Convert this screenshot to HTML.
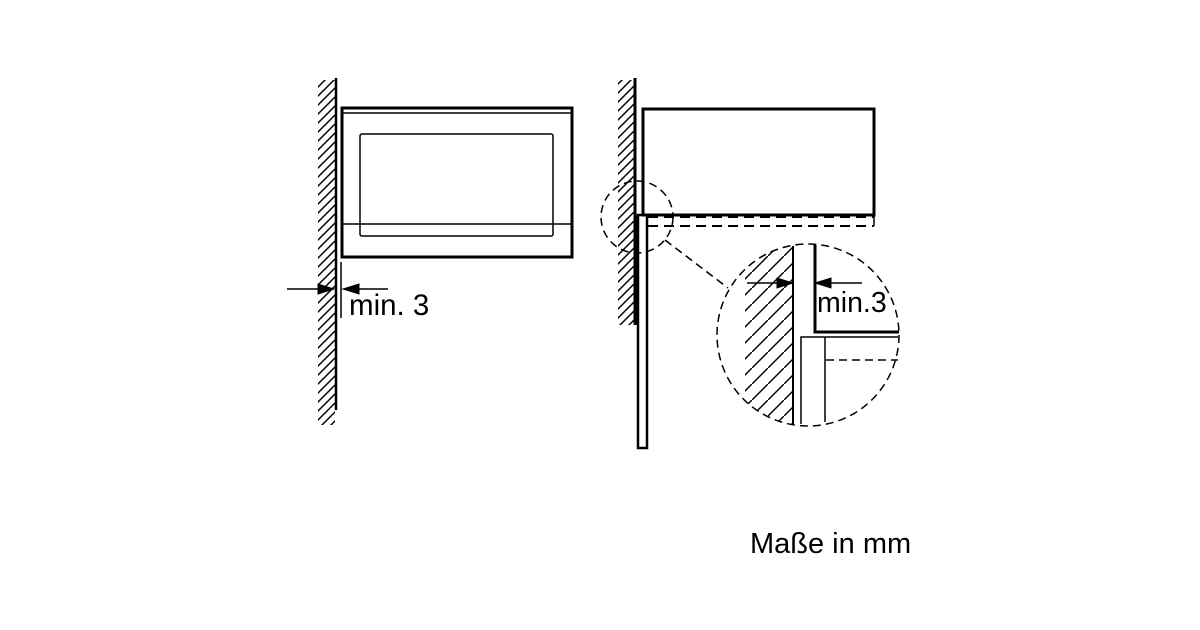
<!DOCTYPE html>
<html><head><style>body{margin:0;background:#fff}svg{display:block}</style></head><body>
<svg width="1200" height="630" xmlns="http://www.w3.org/2000/svg" font-family="Liberation Sans, sans-serif">
<defs>
<pattern id="h1" width="9" height="9" patternUnits="userSpaceOnUse"><path d="M-2,11 L11,-2 M-2,2 L2,-2 M7,11 L11,7" stroke="#000" stroke-width="1.5"/></pattern>
<pattern id="h2" width="16" height="16" patternUnits="userSpaceOnUse"><path d="M-4,20 L20,-4" stroke="#000" stroke-width="1.5"/></pattern>
<clipPath id="cc"><circle cx="808" cy="335" r="91"/></clipPath>
</defs>
<g stroke="#000" fill="none">
<rect x="318" y="80" width="17" height="345" fill="url(#h1)" stroke="none"/>
<line x1="336" y1="78" x2="336" y2="410" stroke-width="2.5"/>
<rect x="342" y="108" width="230" height="149" stroke-width="3"/>
<line x1="343" y1="113" x2="571" y2="113" stroke-width="1.5"/>
<rect x="360" y="134" width="193" height="102" rx="2" stroke-width="1.5"/>
<line x1="342" y1="224" x2="572" y2="224" stroke-width="1.5"/>
<line x1="341" y1="262" x2="341" y2="318" stroke-width="1.5"/>
<line x1="287" y1="289" x2="322" y2="289" stroke-width="1.5"/>
<path d="M334,289 L318,284 L318,294 Z" fill="#000"/>
<line x1="355" y1="289" x2="388" y2="289" stroke-width="1.5"/>
<path d="M343,289 L359,284 L359,294 Z" fill="#000"/>
<rect x="618" y="80" width="16" height="245" fill="url(#h1)" stroke="none"/>
<line x1="635" y1="78" x2="635" y2="325" stroke-width="3"/>
<rect x="643" y="109" width="231" height="106" stroke-width="3"/>
<rect x="638" y="215" width="9" height="233" stroke-width="2.5"/>
<line x1="636" y1="215" x2="636" y2="325" stroke-width="4"/>
<line x1="648" y1="217" x2="874" y2="217" stroke-width="2" stroke-dasharray="10,6"/>
<line x1="648" y1="226" x2="874" y2="226" stroke-width="2" stroke-dasharray="10,6"/>
<line x1="874" y1="215" x2="874" y2="226" stroke-width="1.5"/>
<circle cx="637" cy="217" r="36" stroke-width="1.5" stroke-dasharray="8,5"/>
<line x1="665" y1="240" x2="728" y2="288" stroke-width="1.5" stroke-dasharray="8,5"/>
<circle cx="808" cy="335" r="91" stroke-width="1.5" stroke-dasharray="8,5"/>
<g clip-path="url(#cc)">
<rect x="745" y="247" width="48" height="180" fill="url(#h2)" stroke="none"/>
</g>
<line x1="793" y1="246" x2="793" y2="424" stroke-width="2"/>
<polyline points="801,424 801,337 898,337" stroke-width="1.5"/>
<line x1="825" y1="337" x2="825" y2="422" stroke-width="1.5"/>
<polyline points="815,245 815,332 899,332" stroke-width="3"/>
<line x1="826" y1="360" x2="898" y2="360" stroke-width="1.5" stroke-dasharray="8,5"/>
<line x1="747" y1="283" x2="781" y2="283" stroke-width="1.5"/>
<path d="M793,283 L777,278 L777,288 Z" fill="#000"/>
<line x1="828" y1="283" x2="862" y2="283" stroke-width="1.5"/>
<path d="M815,283 L831,278 L831,288 Z" fill="#000"/>
</g>
<text x="349" y="315" font-size="29.5">min. 3</text>
<text x="817" y="312" font-size="28.5">min.3</text>
<text x="750" y="553" font-size="29">Maße in mm</text>
</svg>
</body></html>
